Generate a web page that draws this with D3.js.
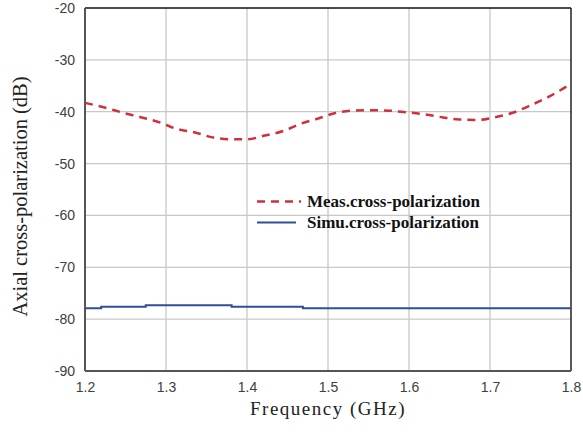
<!DOCTYPE html>
<html><head><meta charset="utf-8">
<script src="https://cdn.jsdelivr.net/npm/d3@7"></script>
<style>body{margin:0;background:#fff}svg{display:block}</style>
</head><body>
<svg id="c" width="583" height="437"></svg>
<script>
const xTicks = [1.2, 1.3, 1.4, 1.5, 1.6, 1.7, 1.8];
const yTicks = [-90, -80, -70, -60, -50, -40, -30, -20];
const measFreq = [1.2, 1.227, 1.247, 1.27, 1.293, 1.313, 1.336, 1.356, 1.379, 1.4, 1.422, 1.445, 1.465, 1.488, 1.508, 1.53, 1.553, 1.576, 1.596, 1.619, 1.642, 1.662, 1.685, 1.705, 1.728, 1.751, 1.774, 1.8];
const measVal  = [-38.3, -39.3, -40.2, -41.1, -42.1, -43.3, -44.0, -44.9, -45.3, -45.3, -44.6, -43.7, -42.4, -41.3, -40.3, -39.8, -39.7, -39.8, -40.1, -40.5, -41.1, -41.5, -41.6, -41.1, -40.2, -38.7, -37.0, -34.6];
const simuFreq = [1.2, 1.22, 1.22, 1.275, 1.275, 1.381, 1.381, 1.469, 1.469, 1.8];
const simuVal  = [-77.9, -77.9, -77.6, -77.6, -77.3, -77.3, -77.6, -77.6, -77.9, -77.9];
const legendLabels = ["Meas.cross-polarization", "Simu.cross-polarization"];

const svg = d3.select("#c");
const L = 85, R = 571, T = 8, B = 371;
const x = d3.scaleLinear().domain([1.2, 1.8]).range([L, R]);
const y = d3.scaleLinear().domain([-90, -20]).range([B, T]);

// grid
svg.append("g").selectAll("line").data(xTicks.slice(1, -1)).join("line")
  .attr("x1", d => x(d)).attr("x2", d => x(d)).attr("y1", T).attr("y2", B)
  .attr("stroke", "#c8c8c8").attr("stroke-width", 1.3);
svg.append("g").selectAll("line").data(yTicks.slice(1, -1)).join("line")
  .attr("y1", d => y(d)).attr("y2", d => y(d)).attr("x1", L).attr("x2", R)
  .attr("stroke", "#c8c8c8").attr("stroke-width", 1.3);

// axes
const xa = svg.append("g").attr("transform", `translate(0,${B})`)
  .call(d3.axisBottom(x).tickValues(xTicks).tickFormat(d3.format(".1f")).tickSize(0).tickPadding(11));
const ya = svg.append("g").attr("transform", `translate(${L},0)`)
  .call(d3.axisLeft(y).tickValues(yTicks).tickFormat(d => String(d)).tickSize(0).tickPadding(10));
[xa, ya].forEach(a => {
  a.select(".domain").remove();
  a.selectAll("text").attr("font-family", "Liberation Sans, Arial, sans-serif")
    .attr("font-size", 14).attr("fill", "#404040");
});

// frame
svg.append("line").attr("x1", L).attr("x2", R).attr("y1", T).attr("y2", T).attr("stroke", "#111").attr("stroke-width", 1.5);
svg.append("line").attr("x1", R).attr("x2", R).attr("y1", T).attr("y2", B).attr("stroke", "#222").attr("stroke-width", 1.5);
svg.append("line").attr("x1", L).attr("x2", L).attr("y1", T).attr("y2", B).attr("stroke", "#555").attr("stroke-width", 2);
svg.append("line").attr("x1", L).attr("x2", R).attr("y1", B).attr("y2", B).attr("stroke", "#555").attr("stroke-width", 2);

const line = d3.line().x(d => x(d[0])).y(d => y(d[1]));
const lineC = d3.line().x(d => x(d[0])).y(d => y(d[1])).curve(d3.curveMonotoneX);

svg.append("path").datum(simuFreq.map((f, i) => [f, simuVal[i]]))
  .attr("d", line).attr("fill", "none").attr("stroke", "#2f4f98").attr("stroke-width", 2);
svg.append("path").datum(measFreq.map((f, i) => [f, measVal[i]]))
  .attr("d", lineC).attr("fill", "none").attr("stroke", "#d0303a").attr("stroke-width", 2.5)
  .attr("stroke-dasharray", "8,6");

// legend
const lg = svg.append("g");
lg.append("line").attr("x1", 257).attr("x2", 301).attr("y1", 201.5).attr("y2", 201.5)
  .attr("stroke", "#d0303a").attr("stroke-width", 2.5).attr("stroke-dasharray", "8,6");
lg.append("line").attr("x1", 257).attr("x2", 296).attr("y1", 222.5).attr("y2", 222.5)
  .attr("stroke", "#2f4f98").attr("stroke-width", 2);
lg.selectAll("text").data(legendLabels).join("text")
  .attr("x", 307).attr("y", (d, i) => 206.5 + i * 21)
  .attr("font-family", "Liberation Serif, Times New Roman, serif").attr("font-weight", "bold")
  .attr("font-size", 17).attr("fill", "#111").text(d => d);

// axis titles
svg.append("text").attr("x", 328).attr("y", 415).attr("text-anchor", "middle")
  .attr("font-family", "Liberation Serif, Times New Roman, serif").attr("font-size", 19)
  .attr("letter-spacing", 1.5).attr("fill", "#222").text("Frequency (GHz)");
svg.append("text").attr("transform", `translate(27,${(T + B) / 2 + 7}) rotate(-90)`).attr("text-anchor", "middle")
  .attr("font-family", "Liberation Serif, Times New Roman, serif").attr("font-size", 20.5)
  .attr("fill", "#222").text("Axial cross-polarization (dB)");
</script>
</body></html>
